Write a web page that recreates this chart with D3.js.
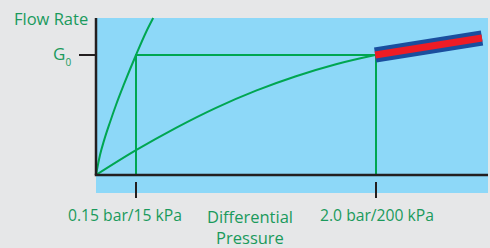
<!DOCTYPE html>
<html>
<head>
<meta charset="utf-8">
<script src="https://cdn.jsdelivr.net/npm/d3@7/dist/d3.min.js"></script>
<style>
  html, body { margin: 0; padding: 0; background: #e6e7e8; }
  svg { display: block; }
  text { font-family: "Open Sans", sans-serif; fill: #1a9a5c; }
</style>
</head>
<body>
<div id="chart"></div>
<script>
// Relative units (schematic chart)
const xTickValues = [1.0, 7.0];
const xTickLabels = ["0.15 bar/15 kPa", "2.0 bar/200 kPa"];
const xAxisTitle = ["Differential", "Pressure"];
const yTickValues = [3.0];
const yAxisTitle = "Flow Rate";
const yTickLabel = "G";
const yTickSub = "0";

// Steep curve (small orifice) – pressure vs flow
const steepX = [0, 0.1, 0.2, 0.35, 0.5, 0.7, 1.0, 1.25, 1.43];
const steepY = [0, 0.50, 0.86, 1.32, 1.75, 2.27, 3.0, 3.57, 3.925];
// Shallow curve (large orifice)
const shallowX = [0, 1, 2, 3, 4, 5, 6, 6.98];
const shallowY = [0, 0.62, 1.18, 1.68, 2.11, 2.47, 2.77, 3.0];
// Operating range band
const bandX = [6.98, 9.65];
const bandY = [3.0, 3.425];

const W = 490, H = 248;
const xMax = 9.8, yMax = 3.925, yPanelMin = -0.45;

const svg = d3.select("#chart").append("svg").attr("width", W).attr("height", H);

const x = d3.scaleLinear().domain([0, xMax]).range([96, 488]);
const y = d3.scaleLinear().domain([0, yMax]).range([175, 18]);

// panel
svg.append("rect")
  .attr("x", x(0)).attr("y", y(yMax))
  .attr("width", x(xMax) - x(0)).attr("height", y(yPanelMin) - y(yMax))
  .attr("fill", "#8dd8f8");

const green = "#00a651";
const line = d3.line().x(d => x(d[0])).y(d => y(d[1])).curve(d3.curveMonotoneX);

// guide lines
const g0 = yTickValues[0];
svg.append("path")
  .attr("d", d3.line()([[x(xTickValues[0]), y(0)], [x(xTickValues[0]), y(g0)], [x(xTickValues[1]), y(g0)], [x(xTickValues[1]), y(0)]]))
  .attr("fill", "none").attr("stroke", green).attr("stroke-width", 2);

// curves
svg.append("path")
  .attr("d", line(steepX.map((v, i) => [v, steepY[i]])))
  .attr("fill", "none").attr("stroke", green).attr("stroke-width", 2);
svg.append("path")
  .attr("d", line(shallowX.map((v, i) => [v, shallowY[i]])))
  .attr("fill", "none").attr("stroke", green).attr("stroke-width", 2);

// band
const bandPts = bandX.map((v, i) => [x(v), y(bandY[i])]);
svg.append("path").attr("d", d3.line()(bandPts))
  .attr("stroke", "#1a4e9e").attr("stroke-width", 15).attr("stroke-linecap", "butt").attr("fill", "none");
svg.append("path").attr("d", d3.line()(bandPts))
  .attr("stroke", "#ee1c25").attr("stroke-width", 7).attr("stroke-linecap", "butt").attr("fill", "none");

// axes
const axisColor = "#231f20";
svg.append("line").attr("x1", x(0)).attr("x2", x(0)).attr("y1", y(yMax)).attr("y2", y(0))
  .attr("stroke", axisColor).attr("stroke-width", 2.5);
svg.append("line").attr("x1", x(0) - 1.25).attr("x2", x(xMax)).attr("y1", y(0)).attr("y2", y(0))
  .attr("stroke", axisColor).attr("stroke-width", 2.5);

// y tick
yTickValues.forEach(v => {
  svg.append("line").attr("x1", x(0) - 17).attr("x2", x(0)).attr("y1", y(v)).attr("y2", y(v))
    .attr("stroke", axisColor).attr("stroke-width", 2);
  const t = svg.append("text").attr("x", x(0) - 43).attr("y", y(v) + 5)
    .attr("font-size", 17);
  t.append("tspan").text(yTickLabel);
  t.append("tspan").attr("font-size", 10).attr("dy", 6).text(yTickSub);
});

// x ticks
const labelOffsets = [-11, 1];
xTickValues.forEach((v, i) => {
  svg.append("line").attr("x1", x(v)).attr("x2", x(v)).attr("y1", 182).attr("y2", 198)
    .attr("stroke", axisColor).attr("stroke-width", 2);
  svg.append("text").attr("x", x(v) + labelOffsets[i]).attr("y", 221)
    .attr("text-anchor", "middle").attr("font-size", 15.7).text(xTickLabels[i]);
});

// titles
svg.append("text").attr("x", 14).attr("y", 25).attr("font-size", 16.5).text(yAxisTitle);
svg.append("text").attr("x", 250).attr("y", 222.5).attr("text-anchor", "middle").attr("font-size", 16.5).text(xAxisTitle[0]);
svg.append("text").attr("x", 250).attr("y", 244).attr("text-anchor", "middle").attr("font-size", 16.5).text(xAxisTitle[1]);
</script>
</body>
</html>
